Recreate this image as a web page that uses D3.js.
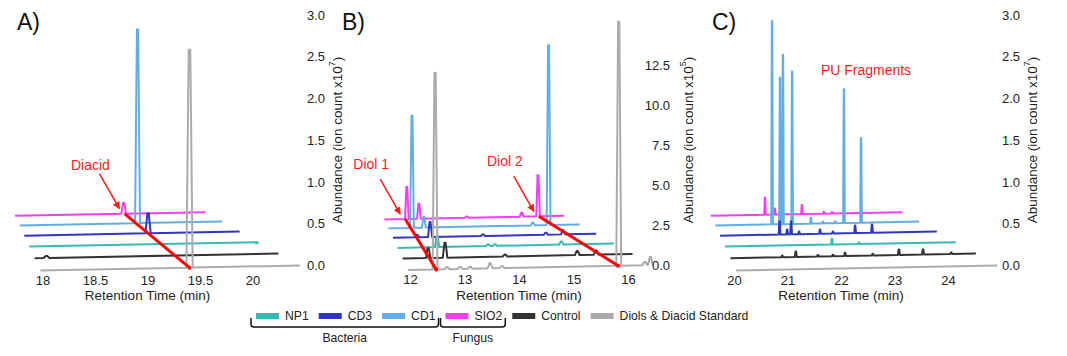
<!DOCTYPE html>
<html><head><meta charset="utf-8">
<script src="https://cdn.jsdelivr.net/npm/d3@7"></script>
<style>
body{margin:0;background:#fff;}
svg{display:block;font-family:"Liberation Sans",Arial,sans-serif;}
</style></head><body>
<svg id="chart" width="1067" height="356"></svg>
<script>
// ================= DATA =================
// series, front (index 0) to back (index 5)
const seriesNames = ["Diols & Diacid Standard", "Control", "NP1", "CD3", "CD1", "SIO2"];
const seriesColors = ["#ababab", "#333333", "#35bab4", "#2f36c4", "#63ade6", "#f53df5"];
const legendOrder = ["NP1", "CD3", "CD1", "SIO2", "Control", "Diols & Diacid Standard"];
const legendGroups = [["Bacteria", "NP1", "CD1"], ["Fungus", "SIO2", "SIO2"]];

// Panel A: peaks [retention time (min), abundance (x10^7)]
const peaksA_Standard = [[19.40, 2.61]];
const peaksA_Control  = [[18.10, 0.025]];
const peaksA_NP1      = [];
const peaksA_CD3      = [[19.40, 0.29]];
const peaksA_CD1      = [[19.42, 2.97]];
const peaksA_SIO2     = [[19.39, 0.18]];

// Panel B: peaks [retention time (min), abundance (x10^5)]
const peaksB_Standard = [[12.46, 12.3], [12.68, 0.12], [12.92, 0.12], [13.10, 0.12], [13.47, 0.31], [13.69, 0.12], [15.83, 15.25], [16.31, 0.2], [16.41, 0.5]];
const peaksB_Control  = [[12.46, 0.66], [12.79, 1.0], [13.96, 0.13], [15.37, 0.27], [15.74, 0.27]];
const peaksB_NP1      = [[12.78, 0.78], [13.84, 0.12], [13.98, 0.12], [15.36, 0.21]];
const peaksB_CD3      = [[12.49, 0.2], [12.78, 1.13], [13.95, 0.12], [15.34, 0.15], [15.72, 0.3]];
const peaksB_CD1      = [[12.51, 8.97], [12.79, 0.88], [15.35, 0.24], [15.72, 14.4]];
const peaksB_SIO2     = [[12.52, 2.72], [12.82, 1.28], [14.02, 0.1], [15.39, 0.34], [15.80, 3.49]];

// Panel C: peaks [retention time (min), abundance (x10^7)]
const peaksC_Standard = [];
const peaksC_Control  = [[21.07, 0.02], [21.34, 0.07], [21.78, 0.02], [22.08, 0.02], [22.32, 0.04], [22.87, 0.02], [23.39, 0.07], [23.87, 0.065], [24.43, 0.02]];
const peaksC_NP1      = [[22.30, 0.08], [22.87, 0.02]];
const peaksC_CD3      = [[21.38, 0.19], [21.55, 0.07], [21.64, 0.19], [21.82, 0.04], [22.29, 0.06], [22.58, 0.03], [23.08, 0.11], [23.46, 0.12]];
const peaksC_CD1      = [[21.40, 3.12], [21.59, 2.25], [21.66, 2.60], [21.88, 2.34], [22.33, 0.09], [22.62, 0.03], [22.91, 0.03], [23.12, 2.05], [23.53, 1.30]];
const peaksC_SIO2     = [[21.42, 0.28], [21.67, 0.1], [22.36, 0.15], [22.92, 0.03], [23.13, 0.025]];

// recorded time ranges of the traces
const rangeA = [17.98, 20.45];
const rangeB = [11.96, 16.45];
const rangeC = [20.04, 24.92];

// tick labels
const xTicksA = [18, 18.5, 19, 19.5, 20];
const xTicksB = [12, 13, 14, 15, 16];
const xTicksC = [20, 21, 22, 23, 24];
const yTicksA = [0, 0.5, 1.0, 1.5, 2.0, 2.5, 3.0];
const yTicksB = [0, 2.5, 5.0, 7.5, 10.0, 12.5];
const yTicksC = [0, 0.5, 1.0, 1.5, 2.0, 2.5, 3.0];

// annotations: [label, retention time]
const annotA = [["Diacid", 19.40]];
const annotB = [["Diol 1", 12.48], ["Diol 2", 15.82]];
const annotC = [];

// ================= LAYOUT =================
const svg = d3.select("#chart");
const depthFactor = 0.94;
const FONT_TICK = 13, FONT_TITLE = 13.5, FONT_LEG = 12.2;

const panels = [
  { letter: "A)", letterX: 17, peaks: [peaksA_Standard, peaksA_Control, peaksA_NP1, peaksA_CD3, peaksA_CD1, peaksA_SIO2],
    range: rangeA, xt: xTicksA, yt: yTicksA, xDom: [18, 20], xRng: [42.5, 252.5], yDom: [0, 3], yRng: [265.5, 15],
    vx: -55, vy: 65, tilt: 5, hw: 0.03, yLabelEnd: 325, yTitleX: 337, exp: "7", annots: annotA, annDy: -9 },
  { letter: "B)", letterX: 342, peaks: [peaksB_Standard, peaksB_Control, peaksB_NP1, peaksB_CD3, peaksB_CD1, peaksB_SIO2],
    range: rangeB, xt: xTicksB, yt: yTicksB, xDom: [12, 16], xRng: [410, 628], yDom: [0, 12.5], yRng: [265, 65],
    vx: 320, vy: 80, tilt: 5, hw: 0.045, yLabelEnd: 670, yTitleX: 688, exp: "5", annots: annotB, annDy: -15 },
  { letter: "C)", letterX: 712, peaks: [peaksC_Standard, peaksC_Control, peaksC_NP1, peaksC_CD3, peaksC_CD1, peaksC_SIO2],
    range: rangeC, xt: xTicksC, yt: yTicksC, xDom: [20, 24], xRng: [734, 948], yDom: [0, 3], yRng: [265.5, 15],
    vx: 641, vy: 65, tilt: 5, hw: 0.02, yLabelEnd: 1020, yTitleX: 1032, exp: "7", annots: annotC, annDy: 0 }
];

// arrow marker
svg.append("defs").append("marker")
  .attr("id", "arrow").attr("viewBox", "0 0 10 10").attr("refX", 9).attr("refY", 5)
  .attr("markerWidth", 5).attr("markerHeight", 5).attr("orient", "auto-start-reverse")
  .append("path").attr("d", "M0,0 L10,5 L0,10 z").attr("fill", "#ff1a1a");

panels.forEach(P => {
  const x = d3.scaleLinear().domain(P.xDom).range(P.xRng);
  const y = d3.scaleLinear().domain(P.yDom).range(P.yRng);
  const X0 = x(P.range[0]), X1 = x(P.range[1]);
  const proj = (t, v, k) => {
    const X = x(t);
    const Yb = y(0) + P.tilt * (X1 - X) / (X1 - X0);
    const Y = Yb - (y(0) - y(v));
    const s = Math.pow(depthFactor, k);
    return [P.vx + (X - P.vx) * s, P.vy + (Y - P.vy) * s];
  };
  const line = d3.line();
  const g = svg.append("g");

  // traces back to front
  for (let k = seriesNames.length - 1; k >= 0; k--) {
    const pts = [[P.range[0], 0]];
    P.peaks[k].slice().sort((a, b) => a[0] - b[0]).forEach(([t, v]) => {
      pts.push([t - P.hw, 0], [t - P.hw * 0.25, v], [t + P.hw * 0.25, v], [t + P.hw, 0]);
    });
    if (pts[pts.length - 1][0] < P.range[1]) pts.push([P.range[1], 0]);
    g.append("path")
      .attr("d", line(pts.map(d => proj(d[0], d[1], k))))
      .attr("fill", "none").attr("stroke", seriesColors[k])
      .attr("stroke-width", 2).attr("stroke-linejoin", "round");
  }

  // red retention-time guide lines + annotations
  P.annots.forEach(([label, t]) => {
    const top = proj(t, 0, seriesNames.length - 1);
    const bot = proj(t, 0, 0);
    g.append("line").attr("x1", top[0]).attr("y1", top[1]).attr("x2", bot[0]).attr("y2", bot[1])
      .attr("stroke", "#ff0000").attr("stroke-width", 3);
    g.append("circle").attr("cx", bot[0]).attr("cy", bot[1]).attr("r", 2).attr("fill", "#ff0000");
    const tip = [top[0] - 5, top[1] - 5];
    const start = [tip[0] - 20, tip[1] - 35];
    g.append("line").attr("x1", start[0]).attr("y1", start[1]).attr("x2", tip[0]).attr("y2", tip[1])
      .attr("stroke", "#ff1a1a").attr("stroke-width", 1.5).attr("marker-end", "url(#arrow)");
    g.append("text").attr("x", start[0] - 9).attr("y", start[1] + P.annDy)
      .attr("text-anchor", "middle").attr("dominant-baseline", "central")
      .attr("fill", "#ff1a1a").attr("font-size", 14).text(label);
  });

  // x axis
  const xa = g.append("g").attr("transform", `translate(0,${y(0) + 4})`)
    .call(d3.axisBottom(x).tickValues(P.xt).tickSize(0).tickPadding(6).tickFormat(d => String(d)));
  xa.select(".domain").remove();
  xa.selectAll("text").attr("font-size", FONT_TICK).attr("fill", "#222").attr("font-family", null);
  g.append("text").attr("x", (x(P.xDom[0]) + x(P.xDom[1])) / 2).attr("y", 300)
    .attr("text-anchor", "middle").attr("font-size", FONT_TITLE).attr("fill", "#222")
    .text("Retention Time (min)");

  // y axis (labels right-aligned)
  const ya = g.append("g").attr("transform", `translate(${P.yLabelEnd},0)`)
    .call(d3.axisRight(y).tickValues(P.yt).tickSize(0).tickFormat(d3.format(".1f")));
  ya.select(".domain").remove();
  ya.selectAll("text").attr("x", 0).attr("text-anchor", "end").attr("font-size", FONT_TICK)
    .attr("fill", "#222").attr("font-family", null);

  const yt = g.append("text").attr("transform", `translate(${P.yTitleX},140) rotate(-90)`)
    .attr("text-anchor", "middle").attr("dominant-baseline", "central")
    .attr("font-size", FONT_TITLE).attr("fill", "#222");
  yt.append("tspan").text("Abundance (ion count x10");
  yt.append("tspan").attr("font-size", 9).attr("dy", -5).text(P.exp);
  yt.append("tspan").attr("dy", 5).text(")");

  // panel letter
  g.append("text").attr("x", P.letterX).attr("y", 30).attr("font-size", 23).attr("fill", "#111").text(P.letter);
});

// PU Fragments label
svg.append("text").attr("x", 866).attr("y", 75).attr("text-anchor", "middle")
  .attr("fill", "#ff1a1a").attr("font-size", 14).text("PU Fragments");

// ================= LEGEND =================
const leg = svg.append("g");
let cx = 256;
const itemPos = {};
legendOrder.forEach(name => {
  const k = seriesNames.indexOf(name);
  leg.append("rect").attr("x", cx).attr("y", 313).attr("width", 23).attr("height", 6).attr("fill", seriesColors[k]);
  const tx = leg.append("text").attr("x", cx + 29).attr("y", 320).attr("font-size", FONT_LEG).attr("fill", "#222").text(name);
  const w = tx.node().getComputedTextLength();
  itemPos[name] = { x0: cx, x1: cx + 29 + w };
  cx = cx + 29 + w + 10;
});
legendGroups.forEach(([label, first, last]) => {
  const a = itemPos[first].x0 - 5, b = itemPos[last].x1 + 3;
  leg.append("path")
    .attr("d", `M${a},318 L${a},324 Q${a},327 ${a + 3},327 L${b - 3},327 Q${b},327 ${b},324 L${b},318`)
    .attr("fill", "none").attr("stroke", "#111").attr("stroke-width", 1.5);
  leg.append("text").attr("x", (a + b) / 2).attr("y", 342).attr("text-anchor", "middle")
    .attr("font-size", FONT_LEG).attr("fill", "#222").text(label);
});
</script>
</body></html>
